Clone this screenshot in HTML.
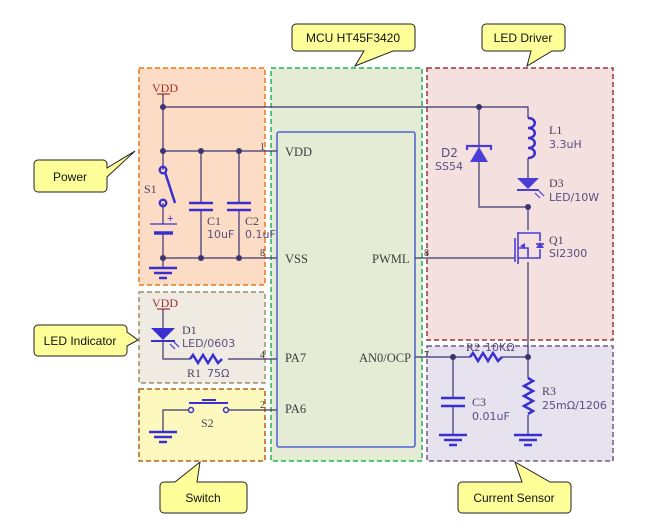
<!DOCTYPE html>
<html><head><meta charset="utf-8"><style>
html,body{margin:0;padding:0;background:#fff;width:649px;height:530px;overflow:hidden}
svg{display:block}
.lb{font-family:"Liberation Serif",serif;font-size:12px;fill:#4a3f5c}
.ls{font-family:"DejaVu Sans","Liberation Sans",sans-serif;font-size:11px;fill:#5b4f80}
.pin{font-family:"Liberation Serif",serif;font-size:12.5px;fill:#3d3d3d}
.co{font-family:"Liberation Sans",sans-serif;font-size:12px;fill:#111}
.w{stroke:#3a3570;stroke-width:1.2;fill:none}
.c{stroke:#3a30d0;stroke-width:2.5;fill:none}
</style></head><body>
<svg width="649" height="530" viewBox="0 0 649 530">
<!-- boxes -->
<rect x="139" y="68" width="126" height="217" fill="#fddcc6" stroke="#e57a1e" stroke-width="1.5" stroke-dasharray="5,3"/>
<rect x="271" y="68" width="151" height="393" fill="#e5ecd5" stroke="#22b455" stroke-width="1.5" stroke-dasharray="5,3"/>
<rect x="427" y="68" width="186" height="272" fill="#f3e0df" stroke="#9a3535" stroke-width="1.5" stroke-dasharray="5,3"/>
<rect x="139" y="292" width="126" height="91" fill="#efebe3" stroke="#9c9068" stroke-width="1.5" stroke-dasharray="5,3"/>
<rect x="139" y="389" width="126" height="72" fill="#fdf9be" stroke="#b0621c" stroke-width="1.5" stroke-dasharray="5,3"/>
<rect x="427" y="346" width="186" height="115" fill="#e6e2ee" stroke="#6e5a8c" stroke-width="1.5" stroke-dasharray="5,3"/>
<!-- IC -->
<rect x="277" y="132" width="138" height="315" rx="2" fill="#e5ecd5" stroke="#3448d8" stroke-width="1.3"/>
<text class="pin" x="285" y="156">VDD</text>
<text class="pin" x="285" y="263">VSS</text>
<text class="pin" x="372" y="263">PWML</text>
<text class="pin" x="285" y="362">PA7</text>
<text class="pin" x="359" y="362">AN0/OCP</text>
<text class="pin" x="285" y="413">PA6</text>
<text class="pin" x="260" y="150" style="font-size:10px">1</text>
<text class="pin" x="260" y="256" style="font-size:10px">8</text>
<text class="pin" x="424" y="256" style="font-size:10px">8</text>
<text class="pin" x="260" y="358" style="font-size:10px">4</text>
<text class="pin" x="424" y="358" style="font-size:10px">7</text>
<text class="pin" x="260" y="408" style="font-size:10px">2</text>
<!-- power wires -->
<text x="152" y="92" style="font-family:'Liberation Serif',serif;font-size:12px;fill:#a0302a">VDD</text>
<line x1="157" y1="94" x2="170" y2="94" stroke="#a0302a" stroke-width="1.2"/>
<path class="w" d="M163 94V170M163 203V224M163 233V268M163 107H528V118M163 151H277M201 151V203M239 151V203M201 210V258M239 210V258M163 258H277"/>
<g fill="#3a3570"><circle cx="163" cy="107" r="3"/><circle cx="163" cy="151" r="3"/><circle cx="201" cy="151" r="3"/><circle cx="239" cy="151" r="3"/><circle cx="163" cy="258" r="3"/><circle cx="201" cy="258" r="3"/><circle cx="239" cy="258" r="3"/></g>
<circle cx="163" cy="170" r="3.3" fill="none" stroke="#3a30d0" stroke-width="2.3"/>
<circle cx="163" cy="203" r="3.3" fill="none" stroke="#3a30d0" stroke-width="2.3"/>
<line class="c" x1="165" y1="172" x2="175" y2="203"/>
<text class="lb" x="144" y="193">S1</text>
<path stroke="#3a30d0" stroke-width="1.3" d="M150 224H177"/>
<path stroke="#3a30d0" stroke-width="3.5" d="M154 233H173"/>
<text x="167" y="222" style="font-size:11px;fill:#3a30d0;font-family:'Liberation Sans'">+</text>
<path class="c" d="M189 203H213M189 210H213M227 203H251M227 210H251"/>
<text class="lb" x="207" y="225">C1</text><text class="ls" x="207" y="238">10uF</text>
<text class="lb" x="245" y="225">C2</text><text class="ls" x="245" y="238">0.1uF</text>
<g stroke="#3a30d0" stroke-width="2.5"><line x1="149" y1="268" x2="177" y2="268"/><line x1="154" y1="273" x2="172" y2="273"/><line x1="159" y1="278" x2="167" y2="278"/></g>
<!-- LED driver -->
<path class="w" d="M479 107V207H528V230M528 158V178M528 262V378M415 258H515"/>
<g fill="#3a3570"><circle cx="479" cy="107" r="3"/><circle cx="528" cy="207" r="3"/><circle cx="528" cy="357" r="3"/><circle cx="453" cy="357" r="3"/></g>
<!-- D2 -->
<path d="M479 147L470 162H488Z" fill="#4a3ed6"/>
<path stroke="#4a3ed6" stroke-width="2.2" fill="none" d="M467 150V146H491V150"/>
<text class="ls" x="441" y="157" style="font-size:12px">D2</text><text class="ls" x="435" y="170">SS54</text>
<!-- L1 -->
<path stroke="#3a30d0" stroke-width="2.5" fill="none" d="M528 118c9 0 9 10 0 10c9 0 9 10 0 10c9 0 9 10 0 10c9 0 9 10 0 10"/>
<text class="lb" x="549" y="134">L1</text><text class="ls" x="549" y="148">3.3uH</text>
<!-- D3 -->
<path d="M517 178H539L528 189Z" fill="#4a3ed6"/><line x1="517" y1="190" x2="539" y2="190" stroke="#4a3ed6" stroke-width="2"/>
<path stroke="#4a3ed6" stroke-width="1.2" d="M535 193l5 5M539 191l5 5"/>
<text class="lb" x="549" y="187">D3</text><text class="ls" x="549" y="201">LED/10W</text>
<!-- Q1 -->
<g stroke="#4a3ed6" stroke-width="1.6" fill="none">
<path d="M515 238V262M518 232V264M518 233H540V241M518 258H540V249M518 248H528V258"/>
<path d="M536 244H544"/>
</g>
<path d="M540 242L536 248H544Z" fill="#4a3ed6"/>
<path d="M520 246L525 243V249Z" fill="#4a3ed6"/>
<text class="lb" x="549" y="244">Q1</text><text class="ls" x="549" y="257">SI2300</text>
<!-- current sensor -->
<path class="w" d="M415 357H470M502 357H528M453 357V398M453 406V435M528 415V435"/>
<path stroke="#3a30d0" stroke-width="2.5" fill="none" d="M470 357l3-4 5 8 5-8 5 8 5-8 5 8 4-4"/>
<text class="lb" x="466" y="351">R2</text><text class="ls" x="485" y="351">10KΩ</text>
<path class="c" d="M441 398H465M441 406H465"/>
<text class="lb" x="472" y="406">C3</text><text class="ls" x="472" y="420">0.01uF</text>
<path stroke="#3a30d0" stroke-width="2.5" fill="none" d="M528 378l5 3-9 5 9 5-9 5 9 5-9 5 9 5-5 3"/>
<text class="lb" x="542" y="395">R3</text><text class="ls" x="542" y="409">25mΩ/1206</text>
<g stroke="#3a30d0" stroke-width="2.5"><line x1="439" y1="435" x2="467" y2="435"/><line x1="444" y1="440" x2="462" y2="440"/><line x1="449" y1="445" x2="457" y2="445"/>
<line x1="514" y1="435" x2="542" y2="435"/><line x1="519" y1="440" x2="537" y2="440"/><line x1="524" y1="445" x2="532" y2="445"/></g>
<!-- LED indicator -->
<text x="152" y="307" style="font-family:'Liberation Serif',serif;font-size:12px;fill:#a0302a">VDD</text>
<line x1="157" y1="309" x2="170" y2="309" stroke="#a0302a" stroke-width="1.2"/>
<path class="w" d="M163 309V328M163 342V359H190M228 359H277"/>
<path d="M151 328H175L163 340Z" fill="#3a30d0"/><line x1="151" y1="341" x2="175" y2="341" stroke="#3a30d0" stroke-width="2"/>
<path stroke="#3a30d0" stroke-width="1.2" d="M170 344l5 5M174 342l5 5"/>
<text class="lb" x="182" y="334">D1</text><text class="ls" x="182" y="347">LED/0603</text>
<path stroke="#3a30d0" stroke-width="2.5" fill="none" d="M190 359l3-4 5 8 5-8 5 8 5-8 5 8 4-4"/>
<text class="lb" x="187" y="377">R1</text><text class="ls" x="207" y="377">75Ω</text>
<!-- switch -->
<path class="w" d="M188 410H163V432M229 410H277"/>
<circle cx="191" cy="410" r="2.5" fill="#fdf9be" stroke="#3a30d0" stroke-width="1.5"/>
<circle cx="226" cy="410" r="2.5" fill="#fdf9be" stroke="#3a30d0" stroke-width="1.5"/>
<path stroke="#3a30d0" stroke-width="2" d="M189 403H228M202 400H216"/>
<text class="lb" x="201" y="427">S2</text>
<g stroke="#3a30d0" stroke-width="2.5"><line x1="149" y1="432" x2="177" y2="432"/><line x1="154" y1="437" x2="172" y2="437"/><line x1="159" y1="442" x2="167" y2="442"/></g>
<!-- callouts -->
<g fill="#ffff99" stroke="#222" stroke-width="1">
<path d="M296 24H411a4 4 0 0 1 4 4V47a4 4 0 0 1-4 4H393L355 66L364 51H296a4 4 0 0 1-4-4V28a4 4 0 0 1 4-4Z"/>
<path d="M486 24H561a4 4 0 0 1 4 4V47a4 4 0 0 1-4 4H552L527 66L531 51H486a4 4 0 0 1-4-4V28a4 4 0 0 1 4-4Z"/>
<path d="M38 160H103a4 4 0 0 1 4 4V168L135 151L107 177V188a4 4 0 0 1-4 4H38a4 4 0 0 1-4-4V164a4 4 0 0 1 4-4Z"/>
<path d="M38 325H123a4 4 0 0 1 4 4V332L138 340L127 346V352a4 4 0 0 1-4 4H38a4 4 0 0 1-4-4V329a4 4 0 0 1 4-4Z"/>
<path d="M164 482H175L200 462L197 482H243a4 4 0 0 1 4 4V509a4 4 0 0 1-4 4H164a4 4 0 0 1-4-4V486a4 4 0 0 1 4-4Z"/>
<path d="M462 482H522L515 462L550 482H567a4 4 0 0 1 4 4V509a4 4 0 0 1-4 4H462a4 4 0 0 1-4-4V486a4 4 0 0 1 4-4Z"/>
</g>
<text class="co" x="353" y="42" text-anchor="middle">MCU HT45F3420</text>
<text class="co" x="523" y="42" text-anchor="middle">LED Driver</text>
<text class="co" x="70" y="181" text-anchor="middle">Power</text>
<text class="co" x="80" y="345" text-anchor="middle">LED Indicator</text>
<text class="co" x="203" y="502" text-anchor="middle">Switch</text>
<text class="co" x="514" y="502" text-anchor="middle">Current Sensor</text>
</svg>
</body></html>
